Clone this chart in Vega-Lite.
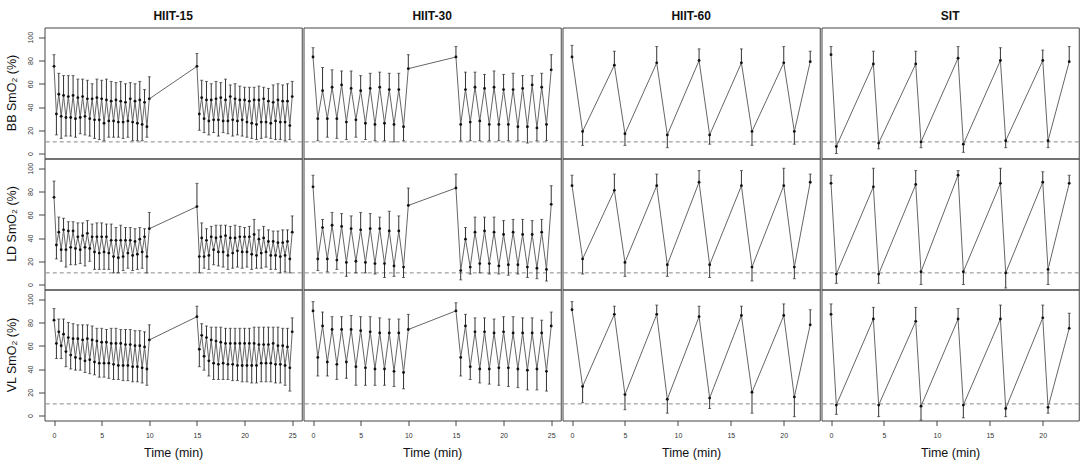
{
  "$schema": "https://vega.github.io/schema/vega-lite/v6.json",
  "background": "white",
  "padding": {"left": 4.5, "top": 9.5, "right": 5, "bottom": 0},
  "data": {
    "values": [
      {"p":"HIIT-15","m":"BB","t":0,"v":75,"e":85},{"p":"HIIT-15","m":"BB","t":0.25,"v":34,"e":16},{"p":"HIIT-15","m":"BB","t":0.5,"v":51,"e":69},{"p":"HIIT-15","m":"BB","t":0.75,"v":32,"e":13},{"p":"HIIT-15","m":"BB","t":1,"v":50,"e":67},{"p":"HIIT-15","m":"BB","t":1.25,"v":31,"e":15},{"p":"HIIT-15","m":"BB","t":1.5,"v":49,"e":67},{"p":"HIIT-15","m":"BB","t":1.75,"v":31,"e":15},{"p":"HIIT-15","m":"BB","t":2,"v":50,"e":67},{"p":"HIIT-15","m":"BB","t":2.25,"v":30,"e":14},{"p":"HIIT-15","m":"BB","t":2.5,"v":48,"e":64},{"p":"HIIT-15","m":"BB","t":2.75,"v":31,"e":17},{"p":"HIIT-15","m":"BB","t":3,"v":49,"e":64},{"p":"HIIT-15","m":"BB","t":3.25,"v":32,"e":16},{"p":"HIIT-15","m":"BB","t":3.5,"v":47,"e":63},{"p":"HIIT-15","m":"BB","t":3.75,"v":30,"e":15},{"p":"HIIT-15","m":"BB","t":4,"v":47,"e":60},{"p":"HIIT-15","m":"BB","t":4.25,"v":29,"e":13},{"p":"HIIT-15","m":"BB","t":4.5,"v":48,"e":64},{"p":"HIIT-15","m":"BB","t":4.75,"v":29,"e":12},{"p":"HIIT-15","m":"BB","t":5,"v":47,"e":63},{"p":"HIIT-15","m":"BB","t":5.25,"v":26,"e":11},{"p":"HIIT-15","m":"BB","t":5.5,"v":46,"e":64},{"p":"HIIT-15","m":"BB","t":5.75,"v":28,"e":14},{"p":"HIIT-15","m":"BB","t":6,"v":45,"e":62},{"p":"HIIT-15","m":"BB","t":6.25,"v":28,"e":14},{"p":"HIIT-15","m":"BB","t":6.5,"v":46,"e":61},{"p":"HIIT-15","m":"BB","t":6.75,"v":27,"e":14},{"p":"HIIT-15","m":"BB","t":7,"v":45,"e":62},{"p":"HIIT-15","m":"BB","t":7.25,"v":27,"e":13},{"p":"HIIT-15","m":"BB","t":7.5,"v":44,"e":60},{"p":"HIIT-15","m":"BB","t":7.75,"v":28,"e":14},{"p":"HIIT-15","m":"BB","t":8,"v":47,"e":61},{"p":"HIIT-15","m":"BB","t":8.25,"v":27,"e":11},{"p":"HIIT-15","m":"BB","t":8.5,"v":45,"e":60},{"p":"HIIT-15","m":"BB","t":8.75,"v":26,"e":11},{"p":"HIIT-15","m":"BB","t":9,"v":46,"e":62},{"p":"HIIT-15","m":"BB","t":9.25,"v":25,"e":11},{"p":"HIIT-15","m":"BB","t":9.5,"v":44,"e":55},{"p":"HIIT-15","m":"BB","t":9.75,"v":23,"e":14},{"p":"HIIT-15","m":"BB","t":10,"v":47,"e":66},
      {"p":"HIIT-15","m":"BB","t":15,"v":75,"e":86},{"p":"HIIT-15","m":"BB","t":15.25,"v":34,"e":20},{"p":"HIIT-15","m":"BB","t":15.5,"v":48,"e":63},{"p":"HIIT-15","m":"BB","t":15.75,"v":30,"e":18},{"p":"HIIT-15","m":"BB","t":16,"v":46,"e":62},{"p":"HIIT-15","m":"BB","t":16.25,"v":28,"e":16},{"p":"HIIT-15","m":"BB","t":16.5,"v":46,"e":60},{"p":"HIIT-15","m":"BB","t":16.75,"v":29,"e":18},{"p":"HIIT-15","m":"BB","t":17,"v":47,"e":62},{"p":"HIIT-15","m":"BB","t":17.25,"v":29,"e":15},{"p":"HIIT-15","m":"BB","t":17.5,"v":48,"e":61},{"p":"HIIT-15","m":"BB","t":17.75,"v":28,"e":18},{"p":"HIIT-15","m":"BB","t":18,"v":46,"e":64},{"p":"HIIT-15","m":"BB","t":18.25,"v":28,"e":17},{"p":"HIIT-15","m":"BB","t":18.5,"v":49,"e":59},{"p":"HIIT-15","m":"BB","t":18.75,"v":29,"e":15},{"p":"HIIT-15","m":"BB","t":19,"v":47,"e":60},{"p":"HIIT-15","m":"BB","t":19.25,"v":28,"e":16},{"p":"HIIT-15","m":"BB","t":19.5,"v":46,"e":58},{"p":"HIIT-15","m":"BB","t":19.75,"v":29,"e":15},{"p":"HIIT-15","m":"BB","t":20,"v":46,"e":57},{"p":"HIIT-15","m":"BB","t":20.25,"v":27,"e":14},{"p":"HIIT-15","m":"BB","t":20.5,"v":45,"e":57},{"p":"HIIT-15","m":"BB","t":20.75,"v":26,"e":13},{"p":"HIIT-15","m":"BB","t":21,"v":46,"e":57},{"p":"HIIT-15","m":"BB","t":21.25,"v":25,"e":12},{"p":"HIIT-15","m":"BB","t":21.5,"v":46,"e":58},{"p":"HIIT-15","m":"BB","t":21.75,"v":27,"e":13},{"p":"HIIT-15","m":"BB","t":22,"v":47,"e":57},{"p":"HIIT-15","m":"BB","t":22.25,"v":27,"e":14},{"p":"HIIT-15","m":"BB","t":22.5,"v":45,"e":56},{"p":"HIIT-15","m":"BB","t":22.75,"v":26,"e":13},{"p":"HIIT-15","m":"BB","t":23,"v":44,"e":59},{"p":"HIIT-15","m":"BB","t":23.25,"v":28,"e":12},{"p":"HIIT-15","m":"BB","t":23.5,"v":46,"e":60},{"p":"HIIT-15","m":"BB","t":23.75,"v":27,"e":12},{"p":"HIIT-15","m":"BB","t":24,"v":45,"e":59},{"p":"HIIT-15","m":"BB","t":24.25,"v":27,"e":11},{"p":"HIIT-15","m":"BB","t":24.5,"v":45,"e":60},{"p":"HIIT-15","m":"BB","t":24.75,"v":24,"e":12},{"p":"HIIT-15","m":"BB","t":25,"v":49,"e":62},
      {"p":"HIIT-15","m":"LD","t":0,"v":75,"e":89},{"p":"HIIT-15","m":"LD","t":0.25,"v":34,"e":22},{"p":"HIIT-15","m":"LD","t":0.5,"v":45,"e":58},{"p":"HIIT-15","m":"LD","t":0.75,"v":30,"e":20},{"p":"HIIT-15","m":"LD","t":1,"v":47,"e":57},{"p":"HIIT-15","m":"LD","t":1.25,"v":30,"e":15},{"p":"HIIT-15","m":"LD","t":1.5,"v":46,"e":54},{"p":"HIIT-15","m":"LD","t":1.75,"v":32,"e":17},{"p":"HIIT-15","m":"LD","t":2,"v":46,"e":54},{"p":"HIIT-15","m":"LD","t":2.25,"v":31,"e":17},{"p":"HIIT-15","m":"LD","t":2.5,"v":41,"e":53},{"p":"HIIT-15","m":"LD","t":2.75,"v":30,"e":18},{"p":"HIIT-15","m":"LD","t":3,"v":42,"e":53},{"p":"HIIT-15","m":"LD","t":3.25,"v":32,"e":16},{"p":"HIIT-15","m":"LD","t":3.5,"v":44,"e":55},{"p":"HIIT-15","m":"LD","t":3.75,"v":31,"e":20},{"p":"HIIT-15","m":"LD","t":4,"v":41,"e":52},{"p":"HIIT-15","m":"LD","t":4.25,"v":28,"e":13},{"p":"HIIT-15","m":"LD","t":4.5,"v":41,"e":53},{"p":"HIIT-15","m":"LD","t":4.75,"v":27,"e":13},{"p":"HIIT-15","m":"LD","t":5,"v":41,"e":53},{"p":"HIIT-15","m":"LD","t":5.25,"v":28,"e":13},{"p":"HIIT-15","m":"LD","t":5.5,"v":41,"e":52},{"p":"HIIT-15","m":"LD","t":5.75,"v":27,"e":13},{"p":"HIIT-15","m":"LD","t":6,"v":38,"e":52},{"p":"HIIT-15","m":"LD","t":6.25,"v":24,"e":10},{"p":"HIIT-15","m":"LD","t":6.5,"v":38,"e":49},{"p":"HIIT-15","m":"LD","t":6.75,"v":23,"e":10},{"p":"HIIT-15","m":"LD","t":7,"v":38,"e":51},{"p":"HIIT-15","m":"LD","t":7.25,"v":24,"e":12},{"p":"HIIT-15","m":"LD","t":7.5,"v":38,"e":49},{"p":"HIIT-15","m":"LD","t":7.75,"v":27,"e":14},{"p":"HIIT-15","m":"LD","t":8,"v":38,"e":49},{"p":"HIIT-15","m":"LD","t":8.25,"v":25,"e":12},{"p":"HIIT-15","m":"LD","t":8.5,"v":37,"e":48},{"p":"HIIT-15","m":"LD","t":8.75,"v":26,"e":13},{"p":"HIIT-15","m":"LD","t":9,"v":39,"e":49},{"p":"HIIT-15","m":"LD","t":9.25,"v":28,"e":14},{"p":"HIIT-15","m":"LD","t":9.5,"v":41,"e":48},{"p":"HIIT-15","m":"LD","t":9.75,"v":24,"e":10},{"p":"HIIT-15","m":"LD","t":10,"v":48,"e":62},
      {"p":"HIIT-15","m":"LD","t":15,"v":67,"e":87},{"p":"HIIT-15","m":"LD","t":15.25,"v":24,"e":10},{"p":"HIIT-15","m":"LD","t":15.5,"v":40,"e":53},{"p":"HIIT-15","m":"LD","t":15.75,"v":24,"e":14},{"p":"HIIT-15","m":"LD","t":16,"v":38,"e":48},{"p":"HIIT-15","m":"LD","t":16.25,"v":25,"e":13},{"p":"HIIT-15","m":"LD","t":16.5,"v":41,"e":50},{"p":"HIIT-15","m":"LD","t":16.75,"v":30,"e":17},{"p":"HIIT-15","m":"LD","t":17,"v":40,"e":51},{"p":"HIIT-15","m":"LD","t":17.25,"v":28,"e":16},{"p":"HIIT-15","m":"LD","t":17.5,"v":41,"e":51},{"p":"HIIT-15","m":"LD","t":17.75,"v":28,"e":15},{"p":"HIIT-15","m":"LD","t":18,"v":42,"e":51},{"p":"HIIT-15","m":"LD","t":18.25,"v":25,"e":13},{"p":"HIIT-15","m":"LD","t":18.5,"v":40,"e":50},{"p":"HIIT-15","m":"LD","t":18.75,"v":27,"e":14},{"p":"HIIT-15","m":"LD","t":19,"v":40,"e":51},{"p":"HIIT-15","m":"LD","t":19.25,"v":29,"e":15},{"p":"HIIT-15","m":"LD","t":19.5,"v":41,"e":50},{"p":"HIIT-15","m":"LD","t":19.75,"v":28,"e":14},{"p":"HIIT-15","m":"LD","t":20,"v":41,"e":49},{"p":"HIIT-15","m":"LD","t":20.25,"v":28,"e":15},{"p":"HIIT-15","m":"LD","t":20.5,"v":41,"e":50},{"p":"HIIT-15","m":"LD","t":20.75,"v":26,"e":13},{"p":"HIIT-15","m":"LD","t":21,"v":43,"e":56},{"p":"HIIT-15","m":"LD","t":21.25,"v":25,"e":14},{"p":"HIIT-15","m":"LD","t":21.5,"v":39,"e":47},{"p":"HIIT-15","m":"LD","t":21.75,"v":27,"e":14},{"p":"HIIT-15","m":"LD","t":22,"v":40,"e":50},{"p":"HIIT-15","m":"LD","t":22.25,"v":28,"e":15},{"p":"HIIT-15","m":"LD","t":22.5,"v":37,"e":47},{"p":"HIIT-15","m":"LD","t":22.75,"v":25,"e":13},{"p":"HIIT-15","m":"LD","t":23,"v":37,"e":46},{"p":"HIIT-15","m":"LD","t":23.25,"v":25,"e":13},{"p":"HIIT-15","m":"LD","t":23.5,"v":36,"e":46},{"p":"HIIT-15","m":"LD","t":23.75,"v":24,"e":10},{"p":"HIIT-15","m":"LD","t":24,"v":36,"e":47},{"p":"HIIT-15","m":"LD","t":24.25,"v":25,"e":11},{"p":"HIIT-15","m":"LD","t":24.5,"v":37,"e":47},{"p":"HIIT-15","m":"LD","t":24.75,"v":22,"e":10},{"p":"HIIT-15","m":"LD","t":25,"v":45,"e":59},
      {"p":"HIIT-15","m":"VL","t":0,"v":82,"e":92},{"p":"HIIT-15","m":"VL","t":0.25,"v":62,"e":49},{"p":"HIIT-15","m":"VL","t":0.5,"v":72,"e":83},{"p":"HIIT-15","m":"VL","t":0.75,"v":60,"e":49},{"p":"HIIT-15","m":"VL","t":1,"v":70,"e":83},{"p":"HIIT-15","m":"VL","t":1.25,"v":55,"e":42},{"p":"HIIT-15","m":"VL","t":1.5,"v":67,"e":80},{"p":"HIIT-15","m":"VL","t":1.75,"v":52,"e":40},{"p":"HIIT-15","m":"VL","t":2,"v":66,"e":79},{"p":"HIIT-15","m":"VL","t":2.25,"v":50,"e":39},{"p":"HIIT-15","m":"VL","t":2.5,"v":66,"e":78},{"p":"HIIT-15","m":"VL","t":2.75,"v":49,"e":39},{"p":"HIIT-15","m":"VL","t":3,"v":65,"e":78},{"p":"HIIT-15","m":"VL","t":3.25,"v":47,"e":37},{"p":"HIIT-15","m":"VL","t":3.5,"v":66,"e":78},{"p":"HIIT-15","m":"VL","t":3.75,"v":48,"e":36},{"p":"HIIT-15","m":"VL","t":4,"v":65,"e":77},{"p":"HIIT-15","m":"VL","t":4.25,"v":46,"e":35},{"p":"HIIT-15","m":"VL","t":4.5,"v":64,"e":75},{"p":"HIIT-15","m":"VL","t":4.75,"v":45,"e":33},{"p":"HIIT-15","m":"VL","t":5,"v":63,"e":75},{"p":"HIIT-15","m":"VL","t":5.25,"v":45,"e":33},{"p":"HIIT-15","m":"VL","t":5.5,"v":63,"e":74},{"p":"HIIT-15","m":"VL","t":5.75,"v":45,"e":32},{"p":"HIIT-15","m":"VL","t":6,"v":62,"e":75},{"p":"HIIT-15","m":"VL","t":6.25,"v":44,"e":31},{"p":"HIIT-15","m":"VL","t":6.5,"v":62,"e":75},{"p":"HIIT-15","m":"VL","t":6.75,"v":43,"e":31},{"p":"HIIT-15","m":"VL","t":7,"v":62,"e":74},{"p":"HIIT-15","m":"VL","t":7.25,"v":43,"e":30},{"p":"HIIT-15","m":"VL","t":7.5,"v":61,"e":74},{"p":"HIIT-15","m":"VL","t":7.75,"v":43,"e":30},{"p":"HIIT-15","m":"VL","t":8,"v":61,"e":74},{"p":"HIIT-15","m":"VL","t":8.25,"v":42,"e":29},{"p":"HIIT-15","m":"VL","t":8.5,"v":60,"e":73},{"p":"HIIT-15","m":"VL","t":8.75,"v":42,"e":29},{"p":"HIIT-15","m":"VL","t":9,"v":60,"e":73},{"p":"HIIT-15","m":"VL","t":9.25,"v":41,"e":28},{"p":"HIIT-15","m":"VL","t":9.5,"v":59,"e":72},{"p":"HIIT-15","m":"VL","t":9.75,"v":40,"e":26},{"p":"HIIT-15","m":"VL","t":10,"v":65,"e":78},
      {"p":"HIIT-15","m":"VL","t":15,"v":85,"e":94},{"p":"HIIT-15","m":"VL","t":15.25,"v":57,"e":42},{"p":"HIIT-15","m":"VL","t":15.5,"v":69,"e":79},{"p":"HIIT-15","m":"VL","t":15.75,"v":51,"e":39},{"p":"HIIT-15","m":"VL","t":16,"v":67,"e":77},{"p":"HIIT-15","m":"VL","t":16.25,"v":47,"e":34},{"p":"HIIT-15","m":"VL","t":16.5,"v":65,"e":76},{"p":"HIIT-15","m":"VL","t":16.75,"v":45,"e":31},{"p":"HIIT-15","m":"VL","t":17,"v":64,"e":76},{"p":"HIIT-15","m":"VL","t":17.25,"v":44,"e":31},{"p":"HIIT-15","m":"VL","t":17.5,"v":63,"e":76},{"p":"HIIT-15","m":"VL","t":17.75,"v":45,"e":31},{"p":"HIIT-15","m":"VL","t":18,"v":62,"e":75},{"p":"HIIT-15","m":"VL","t":18.25,"v":44,"e":31},{"p":"HIIT-15","m":"VL","t":18.5,"v":62,"e":75},{"p":"HIIT-15","m":"VL","t":18.75,"v":44,"e":30},{"p":"HIIT-15","m":"VL","t":19,"v":62,"e":75},{"p":"HIIT-15","m":"VL","t":19.25,"v":43,"e":30},{"p":"HIIT-15","m":"VL","t":19.5,"v":62,"e":75},{"p":"HIIT-15","m":"VL","t":19.75,"v":43,"e":29},{"p":"HIIT-15","m":"VL","t":20,"v":62,"e":75},{"p":"HIIT-15","m":"VL","t":20.25,"v":43,"e":29},{"p":"HIIT-15","m":"VL","t":20.5,"v":62,"e":75},{"p":"HIIT-15","m":"VL","t":20.75,"v":43,"e":28},{"p":"HIIT-15","m":"VL","t":21,"v":62,"e":76},{"p":"HIIT-15","m":"VL","t":21.25,"v":43,"e":28},{"p":"HIIT-15","m":"VL","t":21.5,"v":61,"e":76},{"p":"HIIT-15","m":"VL","t":21.75,"v":45,"e":29},{"p":"HIIT-15","m":"VL","t":22,"v":61,"e":76},{"p":"HIIT-15","m":"VL","t":22.25,"v":45,"e":29},{"p":"HIIT-15","m":"VL","t":22.5,"v":61,"e":76},{"p":"HIIT-15","m":"VL","t":22.75,"v":45,"e":29},{"p":"HIIT-15","m":"VL","t":23,"v":62,"e":76},{"p":"HIIT-15","m":"VL","t":23.25,"v":44,"e":28},{"p":"HIIT-15","m":"VL","t":23.5,"v":60,"e":76},{"p":"HIIT-15","m":"VL","t":23.75,"v":44,"e":28},{"p":"HIIT-15","m":"VL","t":24,"v":60,"e":75},{"p":"HIIT-15","m":"VL","t":24.25,"v":43,"e":26},{"p":"HIIT-15","m":"VL","t":24.5,"v":59,"e":75},{"p":"HIIT-15","m":"VL","t":24.75,"v":41,"e":21},{"p":"HIIT-15","m":"VL","t":25,"v":72,"e":84},
      {"p":"HIIT-30","m":"BB","t":0,"v":83,"e":91},{"p":"HIIT-30","m":"BB","t":0.5,"v":30,"e":11},{"p":"HIIT-30","m":"BB","t":1,"v":54,"e":74},{"p":"HIIT-30","m":"BB","t":1.5,"v":30,"e":14},{"p":"HIIT-30","m":"BB","t":2,"v":57,"e":72},{"p":"HIIT-30","m":"BB","t":2.5,"v":30,"e":13},{"p":"HIIT-30","m":"BB","t":3,"v":59,"e":71},{"p":"HIIT-30","m":"BB","t":3.5,"v":27,"e":12},{"p":"HIIT-30","m":"BB","t":4,"v":56,"e":71},{"p":"HIIT-30","m":"BB","t":4.5,"v":29,"e":14},{"p":"HIIT-30","m":"BB","t":5,"v":54,"e":67},{"p":"HIIT-30","m":"BB","t":5.5,"v":26,"e":12},{"p":"HIIT-30","m":"BB","t":6,"v":56,"e":69},{"p":"HIIT-30","m":"BB","t":6.5,"v":25,"e":11},{"p":"HIIT-30","m":"BB","t":7,"v":57,"e":70},{"p":"HIIT-30","m":"BB","t":7.5,"v":26,"e":11},{"p":"HIIT-30","m":"BB","t":8,"v":55,"e":69},{"p":"HIIT-30","m":"BB","t":8.5,"v":25,"e":10},{"p":"HIIT-30","m":"BB","t":9,"v":55,"e":69},{"p":"HIIT-30","m":"BB","t":9.5,"v":23,"e":11},{"p":"HIIT-30","m":"BB","t":10,"v":73,"e":85},
      {"p":"HIIT-30","m":"BB","t":15,"v":83,"e":92},{"p":"HIIT-30","m":"BB","t":15.5,"v":25,"e":11},{"p":"HIIT-30","m":"BB","t":16,"v":55,"e":70},{"p":"HIIT-30","m":"BB","t":16.5,"v":27,"e":11},{"p":"HIIT-30","m":"BB","t":17,"v":57,"e":70},{"p":"HIIT-30","m":"BB","t":17.5,"v":28,"e":11},{"p":"HIIT-30","m":"BB","t":18,"v":56,"e":68},{"p":"HIIT-30","m":"BB","t":18.5,"v":25,"e":11},{"p":"HIIT-30","m":"BB","t":19,"v":57,"e":71},{"p":"HIIT-30","m":"BB","t":19.5,"v":25,"e":11},{"p":"HIIT-30","m":"BB","t":20,"v":55,"e":68},{"p":"HIIT-30","m":"BB","t":20.5,"v":25,"e":11},{"p":"HIIT-30","m":"BB","t":21,"v":55,"e":69},{"p":"HIIT-30","m":"BB","t":21.5,"v":23,"e":11},{"p":"HIIT-30","m":"BB","t":22,"v":56,"e":67},{"p":"HIIT-30","m":"BB","t":22.5,"v":23,"e":9},{"p":"HIIT-30","m":"BB","t":23,"v":59,"e":67},{"p":"HIIT-30","m":"BB","t":23.5,"v":22,"e":11},{"p":"HIIT-30","m":"BB","t":24,"v":57,"e":69},{"p":"HIIT-30","m":"BB","t":24.5,"v":25,"e":11},{"p":"HIIT-30","m":"BB","t":25,"v":72,"e":85},
      {"p":"HIIT-30","m":"LD","t":0,"v":84,"e":94},{"p":"HIIT-30","m":"LD","t":0.5,"v":22,"e":12},{"p":"HIIT-30","m":"LD","t":1,"v":49,"e":56},{"p":"HIIT-30","m":"LD","t":1.5,"v":22,"e":11},{"p":"HIIT-30","m":"LD","t":2,"v":51,"e":62},{"p":"HIIT-30","m":"LD","t":2.5,"v":21,"e":13},{"p":"HIIT-30","m":"LD","t":3,"v":50,"e":61},{"p":"HIIT-30","m":"LD","t":3.5,"v":19,"e":7},{"p":"HIIT-30","m":"LD","t":4,"v":48,"e":59},{"p":"HIIT-30","m":"LD","t":4.5,"v":20,"e":10},{"p":"HIIT-30","m":"LD","t":5,"v":47,"e":62},{"p":"HIIT-30","m":"LD","t":5.5,"v":19,"e":10},{"p":"HIIT-30","m":"LD","t":6,"v":48,"e":61},{"p":"HIIT-30","m":"LD","t":6.5,"v":18,"e":9},{"p":"HIIT-30","m":"LD","t":7,"v":48,"e":58},{"p":"HIIT-30","m":"LD","t":7.5,"v":18,"e":6},{"p":"HIIT-30","m":"LD","t":8,"v":46,"e":63},{"p":"HIIT-30","m":"LD","t":8.5,"v":16,"e":7},{"p":"HIIT-30","m":"LD","t":9,"v":46,"e":59},{"p":"HIIT-30","m":"LD","t":9.5,"v":15,"e":6},{"p":"HIIT-30","m":"LD","t":10,"v":68,"e":83},
      {"p":"HIIT-30","m":"LD","t":15,"v":83,"e":95},{"p":"HIIT-30","m":"LD","t":15.5,"v":12,"e":4},{"p":"HIIT-30","m":"LD","t":16,"v":39,"e":49},{"p":"HIIT-30","m":"LD","t":16.5,"v":15,"e":9},{"p":"HIIT-30","m":"LD","t":17,"v":45,"e":58},{"p":"HIIT-30","m":"LD","t":17.5,"v":18,"e":10},{"p":"HIIT-30","m":"LD","t":18,"v":46,"e":58},{"p":"HIIT-30","m":"LD","t":18.5,"v":18,"e":9},{"p":"HIIT-30","m":"LD","t":19,"v":45,"e":58},{"p":"HIIT-30","m":"LD","t":19.5,"v":16,"e":9},{"p":"HIIT-30","m":"LD","t":20,"v":43,"e":55},{"p":"HIIT-30","m":"LD","t":20.5,"v":17,"e":8},{"p":"HIIT-30","m":"LD","t":21,"v":45,"e":56},{"p":"HIIT-30","m":"LD","t":21.5,"v":17,"e":9},{"p":"HIIT-30","m":"LD","t":22,"v":43,"e":56},{"p":"HIIT-30","m":"LD","t":22.5,"v":15,"e":6},{"p":"HIIT-30","m":"LD","t":23,"v":43,"e":55},{"p":"HIIT-30","m":"LD","t":23.5,"v":14,"e":5},{"p":"HIIT-30","m":"LD","t":24,"v":45,"e":56},{"p":"HIIT-30","m":"LD","t":24.5,"v":13,"e":3},{"p":"HIIT-30","m":"LD","t":25,"v":69,"e":85},
      {"p":"HIIT-30","m":"VL","t":0,"v":90,"e":98},{"p":"HIIT-30","m":"VL","t":0.5,"v":50,"e":34},{"p":"HIIT-30","m":"VL","t":1,"v":77,"e":89},{"p":"HIIT-30","m":"VL","t":1.5,"v":46,"e":34},{"p":"HIIT-30","m":"VL","t":2,"v":74,"e":85},{"p":"HIIT-30","m":"VL","t":2.5,"v":44,"e":31},{"p":"HIIT-30","m":"VL","t":3,"v":74,"e":85},{"p":"HIIT-30","m":"VL","t":3.5,"v":46,"e":32},{"p":"HIIT-30","m":"VL","t":4,"v":74,"e":86},{"p":"HIIT-30","m":"VL","t":4.5,"v":42,"e":26},{"p":"HIIT-30","m":"VL","t":5,"v":73,"e":85},{"p":"HIIT-30","m":"VL","t":5.5,"v":41,"e":26},{"p":"HIIT-30","m":"VL","t":6,"v":72,"e":85},{"p":"HIIT-30","m":"VL","t":6.5,"v":40,"e":26},{"p":"HIIT-30","m":"VL","t":7,"v":71,"e":84},{"p":"HIIT-30","m":"VL","t":7.5,"v":40,"e":26},{"p":"HIIT-30","m":"VL","t":8,"v":71,"e":83},{"p":"HIIT-30","m":"VL","t":8.5,"v":38,"e":25},{"p":"HIIT-30","m":"VL","t":9,"v":71,"e":83},{"p":"HIIT-30","m":"VL","t":9.5,"v":37,"e":23},{"p":"HIIT-30","m":"VL","t":10,"v":74,"e":87},
      {"p":"HIIT-30","m":"VL","t":15,"v":90,"e":97},{"p":"HIIT-30","m":"VL","t":15.5,"v":50,"e":34},{"p":"HIIT-30","m":"VL","t":16,"v":77,"e":87},{"p":"HIIT-30","m":"VL","t":16.5,"v":42,"e":31},{"p":"HIIT-30","m":"VL","t":17,"v":72,"e":84},{"p":"HIIT-30","m":"VL","t":17.5,"v":40,"e":28},{"p":"HIIT-30","m":"VL","t":18,"v":72,"e":84},{"p":"HIIT-30","m":"VL","t":18.5,"v":40,"e":27},{"p":"HIIT-30","m":"VL","t":19,"v":71,"e":83},{"p":"HIIT-30","m":"VL","t":19.5,"v":41,"e":26},{"p":"HIIT-30","m":"VL","t":20,"v":72,"e":85},{"p":"HIIT-30","m":"VL","t":20.5,"v":41,"e":25},{"p":"HIIT-30","m":"VL","t":21,"v":71,"e":85},{"p":"HIIT-30","m":"VL","t":21.5,"v":40,"e":24},{"p":"HIIT-30","m":"VL","t":22,"v":71,"e":84},{"p":"HIIT-30","m":"VL","t":22.5,"v":39,"e":22},{"p":"HIIT-30","m":"VL","t":23,"v":71,"e":84},{"p":"HIIT-30","m":"VL","t":23.5,"v":40,"e":22},{"p":"HIIT-30","m":"VL","t":24,"v":71,"e":82},{"p":"HIIT-30","m":"VL","t":24.5,"v":38,"e":21},{"p":"HIIT-30","m":"VL","t":25,"v":77,"e":89},
      {"p":"HIIT-60","m":"BB","t":0,"v":83,"e":93},{"p":"HIIT-60","m":"BB","t":1,"v":19,"e":7},{"p":"HIIT-60","m":"BB","t":4,"v":76,"e":88},{"p":"HIIT-60","m":"BB","t":5,"v":17,"e":7},{"p":"HIIT-60","m":"BB","t":8,"v":78,"e":92},{"p":"HIIT-60","m":"BB","t":9,"v":16,"e":5},{"p":"HIIT-60","m":"BB","t":12,"v":80,"e":90},{"p":"HIIT-60","m":"BB","t":13,"v":16,"e":8},{"p":"HIIT-60","m":"BB","t":16,"v":78,"e":90},{"p":"HIIT-60","m":"BB","t":17,"v":19,"e":7},{"p":"HIIT-60","m":"BB","t":20,"v":78,"e":92},{"p":"HIIT-60","m":"BB","t":21,"v":19,"e":8},{"p":"HIIT-60","m":"BB","t":22.5,"v":79,"e":88},
      {"p":"HIIT-60","m":"LD","t":0,"v":85,"e":94},{"p":"HIIT-60","m":"LD","t":1,"v":22,"e":9},{"p":"HIIT-60","m":"LD","t":4,"v":81,"e":95},{"p":"HIIT-60","m":"LD","t":5,"v":19,"e":7},{"p":"HIIT-60","m":"LD","t":8,"v":85,"e":95},{"p":"HIIT-60","m":"LD","t":9,"v":17,"e":7},{"p":"HIIT-60","m":"LD","t":12,"v":88,"e":98},{"p":"HIIT-60","m":"LD","t":13,"v":17,"e":6},{"p":"HIIT-60","m":"LD","t":16,"v":85,"e":98},{"p":"HIIT-60","m":"LD","t":17,"v":15,"e":3},{"p":"HIIT-60","m":"LD","t":20,"v":85,"e":100},{"p":"HIIT-60","m":"LD","t":21,"v":15,"e":5},{"p":"HIIT-60","m":"LD","t":22.5,"v":88,"e":95},
      {"p":"HIIT-60","m":"VL","t":0,"v":91,"e":98},{"p":"HIIT-60","m":"VL","t":1,"v":25,"e":11},{"p":"HIIT-60","m":"VL","t":4,"v":87,"e":94},{"p":"HIIT-60","m":"VL","t":5,"v":18,"e":5},{"p":"HIIT-60","m":"VL","t":8,"v":87,"e":95},{"p":"HIIT-60","m":"VL","t":9,"v":14,"e":2},{"p":"HIIT-60","m":"VL","t":12,"v":85,"e":94},{"p":"HIIT-60","m":"VL","t":13,"v":15,"e":6},{"p":"HIIT-60","m":"VL","t":16,"v":86,"e":94},{"p":"HIIT-60","m":"VL","t":17,"v":20,"e":2},{"p":"HIIT-60","m":"VL","t":20,"v":86,"e":96},{"p":"HIIT-60","m":"VL","t":21,"v":16,"e":-1},{"p":"HIIT-60","m":"VL","t":22.5,"v":78,"e":91},
      {"p":"SIT","m":"BB","t":0,"v":85,"e":92},{"p":"SIT","m":"BB","t":0.5,"v":6,"e":0},{"p":"SIT","m":"BB","t":4,"v":77,"e":88},{"p":"SIT","m":"BB","t":4.5,"v":9,"e":4},{"p":"SIT","m":"BB","t":8,"v":77,"e":88},{"p":"SIT","m":"BB","t":8.5,"v":10,"e":5},{"p":"SIT","m":"BB","t":12,"v":82,"e":92},{"p":"SIT","m":"BB","t":12.5,"v":8,"e":1},{"p":"SIT","m":"BB","t":16,"v":80,"e":91},{"p":"SIT","m":"BB","t":16.5,"v":11,"e":5},{"p":"SIT","m":"BB","t":20,"v":80,"e":89},{"p":"SIT","m":"BB","t":20.5,"v":11,"e":5},{"p":"SIT","m":"BB","t":22.5,"v":79,"e":92},
      {"p":"SIT","m":"LD","t":0,"v":87,"e":94},{"p":"SIT","m":"LD","t":0.5,"v":9,"e":1},{"p":"SIT","m":"LD","t":4,"v":84,"e":100},{"p":"SIT","m":"LD","t":4.5,"v":9,"e":1},{"p":"SIT","m":"LD","t":8,"v":86,"e":98},{"p":"SIT","m":"LD","t":8.5,"v":11,"e":0},{"p":"SIT","m":"LD","t":12,"v":94,"e":98},{"p":"SIT","m":"LD","t":12.5,"v":11,"e":0},{"p":"SIT","m":"LD","t":16,"v":87,"e":100},{"p":"SIT","m":"LD","t":16.5,"v":10,"e":-3},{"p":"SIT","m":"LD","t":20,"v":88,"e":97},{"p":"SIT","m":"LD","t":20.5,"v":13,"e":0},{"p":"SIT","m":"LD","t":22.5,"v":87,"e":94},
      {"p":"SIT","m":"VL","t":0,"v":87,"e":96},{"p":"SIT","m":"VL","t":0.5,"v":9,"e":1},{"p":"SIT","m":"VL","t":4,"v":83,"e":93},{"p":"SIT","m":"VL","t":4.5,"v":9,"e":-1},{"p":"SIT","m":"VL","t":8,"v":81,"e":93},{"p":"SIT","m":"VL","t":8.5,"v":8,"e":-4},{"p":"SIT","m":"VL","t":12,"v":83,"e":92},{"p":"SIT","m":"VL","t":12.5,"v":9,"e":-2},{"p":"SIT","m":"VL","t":16,"v":83,"e":95},{"p":"SIT","m":"VL","t":16.5,"v":6,"e":-1},{"p":"SIT","m":"VL","t":20,"v":84,"e":95},{"p":"SIT","m":"VL","t":20.5,"v":7,"e":2},{"p":"SIT","m":"VL","t":22.5,"v":75,"e":88}
    ]
  },
  "spacing": -3.5,
  "hconcat": [
    {
      "transform": [{"filter": "datum.p == 'HIIT-15'"}],
      "facet": {
        "row": {"field": "m", "type": "nominal", "header": {"title": null, "labelAngle": -90, "labelExpr": "datum.value + ' SmO₂ (%)'", "labelFontSize": 12.5, "labelColor": "#111", "labelPadding": 2.5}},
        "column": {"field": "p", "type": "nominal", "header": {"title": null, "labelFontSize": 12, "labelFontWeight": "bold", "labelColor": "#111", "labelPadding": 5}}
      },
      "spacing": 0,
      "bounds": "flush",
      "spec": {
        "width": 257.25,
        "height": 131,
        "layer": [
          {"transform": [{"filter": "datum.t == 0"}], "mark": {"type": "rule", "color": "#888", "strokeDash": [4, 3], "strokeWidth": 1}, "encoding": {"y": {"datum": 10, "type": "quantitative", "scale": {"domain": [-4.3, 108.4], "nice": false, "zero": false}, "title": null}}},
          {"mark": {"type": "rule", "color": "#333", "strokeWidth": 1}, "encoding": {"x": {"field": "t", "type": "quantitative", "scale": {"domain": [-1, 26], "nice": false, "zero": false}, "title": "Time (min)"}, "y": {"field": "v", "type": "quantitative", "title": null}, "y2": {"field": "e"}}},
          {"mark": {"type": "tick", "orient": "horizontal", "size": 3, "thickness": 1, "color": "#333"}, "encoding": {"x": {"field": "t", "type": "quantitative", "title": "Time (min)"}, "y": {"field": "e", "type": "quantitative", "title": null}}},
          {"mark": {"type": "line", "color": "#666", "strokeWidth": 1}, "encoding": {"x": {"field": "t", "type": "quantitative", "title": "Time (min)"}, "y": {"field": "v", "type": "quantitative", "title": null}}},
          {"mark": {"type": "point", "filled": true, "size": 8, "color": "#111", "opacity": 1}, "encoding": {"x": {"field": "t", "type": "quantitative", "title": "Time (min)"}, "y": {"field": "v", "type": "quantitative", "title": null}}}
        ]
      }
    },
    {
      "transform": [{"filter": "datum.p == 'HIIT-30'"}],
      "facet": {
        "row": {"field": "m", "type": "nominal", "header": null},
        "column": {"field": "p", "type": "nominal", "header": {"title": null, "labelFontSize": 12, "labelFontWeight": "bold", "labelColor": "#111", "labelPadding": 5}}
      },
      "spacing": 0,
      "bounds": "flush",
      "spec": {
        "width": 257.25,
        "height": 131,
        "layer": [
          {"transform": [{"filter": "datum.t == 0"}], "mark": {"type": "rule", "color": "#888", "strokeDash": [4, 3], "strokeWidth": 1}, "encoding": {"y": {"datum": 10, "type": "quantitative", "scale": {"domain": [-4.3, 108.4], "nice": false, "zero": false}, "axis": null}}},
          {"mark": {"type": "rule", "color": "#333", "strokeWidth": 1}, "encoding": {"x": {"field": "t", "type": "quantitative", "scale": {"domain": [-1, 26], "nice": false, "zero": false}, "title": "Time (min)"}, "y": {"field": "v", "type": "quantitative", "axis": null}, "y2": {"field": "e"}}},
          {"mark": {"type": "tick", "orient": "horizontal", "size": 3, "thickness": 1, "color": "#333"}, "encoding": {"x": {"field": "t", "type": "quantitative", "title": "Time (min)"}, "y": {"field": "e", "type": "quantitative", "axis": null}}},
          {"mark": {"type": "line", "color": "#666", "strokeWidth": 1}, "encoding": {"x": {"field": "t", "type": "quantitative", "title": "Time (min)"}, "y": {"field": "v", "type": "quantitative", "axis": null}}},
          {"mark": {"type": "point", "filled": true, "size": 8, "color": "#111", "opacity": 1}, "encoding": {"x": {"field": "t", "type": "quantitative", "title": "Time (min)"}, "y": {"field": "v", "type": "quantitative", "axis": null}}}
        ]
      }
    },
    {
      "transform": [{"filter": "datum.p == 'HIIT-60'"}],
      "facet": {
        "row": {"field": "m", "type": "nominal", "header": null},
        "column": {"field": "p", "type": "nominal", "header": {"title": null, "labelFontSize": 12, "labelFontWeight": "bold", "labelColor": "#111", "labelPadding": 5}}
      },
      "spacing": 0,
      "bounds": "flush",
      "spec": {
        "width": 257.25,
        "height": 131,
        "layer": [
          {"transform": [{"filter": "datum.t == 0"}], "mark": {"type": "rule", "color": "#888", "strokeDash": [4, 3], "strokeWidth": 1}, "encoding": {"y": {"datum": 10, "type": "quantitative", "scale": {"domain": [-4.3, 108.4], "nice": false, "zero": false}, "axis": null}}},
          {"mark": {"type": "rule", "color": "#333", "strokeWidth": 1}, "encoding": {"x": {"field": "t", "type": "quantitative", "scale": {"domain": [-0.9, 23.4], "nice": false, "zero": false}, "title": "Time (min)"}, "y": {"field": "v", "type": "quantitative", "axis": null}, "y2": {"field": "e"}}},
          {"mark": {"type": "tick", "orient": "horizontal", "size": 3, "thickness": 1, "color": "#333"}, "encoding": {"x": {"field": "t", "type": "quantitative", "title": "Time (min)"}, "y": {"field": "e", "type": "quantitative", "axis": null}}},
          {"mark": {"type": "line", "color": "#666", "strokeWidth": 1}, "encoding": {"x": {"field": "t", "type": "quantitative", "title": "Time (min)"}, "y": {"field": "v", "type": "quantitative", "axis": null}}},
          {"mark": {"type": "point", "filled": true, "size": 8, "color": "#111", "opacity": 1}, "encoding": {"x": {"field": "t", "type": "quantitative", "title": "Time (min)"}, "y": {"field": "v", "type": "quantitative", "axis": null}}}
        ]
      }
    },
    {
      "transform": [{"filter": "datum.p == 'SIT'"}],
      "facet": {
        "row": {"field": "m", "type": "nominal", "header": null},
        "column": {"field": "p", "type": "nominal", "header": {"title": null, "labelFontSize": 12, "labelFontWeight": "bold", "labelColor": "#111", "labelPadding": 5}}
      },
      "spacing": 0,
      "bounds": "flush",
      "spec": {
        "width": 257.25,
        "height": 131,
        "layer": [
          {"transform": [{"filter": "datum.t == 0"}], "mark": {"type": "rule", "color": "#888", "strokeDash": [4, 3], "strokeWidth": 1}, "encoding": {"y": {"datum": 10, "type": "quantitative", "scale": {"domain": [-4.3, 108.4], "nice": false, "zero": false}, "axis": null}}},
          {"mark": {"type": "rule", "color": "#333", "strokeWidth": 1}, "encoding": {"x": {"field": "t", "type": "quantitative", "scale": {"domain": [-0.9, 23.4], "nice": false, "zero": false}, "title": "Time (min)"}, "y": {"field": "v", "type": "quantitative", "axis": null}, "y2": {"field": "e"}}},
          {"mark": {"type": "tick", "orient": "horizontal", "size": 3, "thickness": 1, "color": "#333"}, "encoding": {"x": {"field": "t", "type": "quantitative", "title": "Time (min)"}, "y": {"field": "e", "type": "quantitative", "axis": null}}},
          {"mark": {"type": "line", "color": "#666", "strokeWidth": 1}, "encoding": {"x": {"field": "t", "type": "quantitative", "title": "Time (min)"}, "y": {"field": "v", "type": "quantitative", "axis": null}}},
          {"mark": {"type": "point", "filled": true, "size": 8, "color": "#111", "opacity": 1}, "encoding": {"x": {"field": "t", "type": "quantitative", "title": "Time (min)"}, "y": {"field": "v", "type": "quantitative", "axis": null}}}
        ]
      }
    }
  ],
  "config": {
    "font": "Liberation Sans",
    "view": {"stroke": "#444", "strokeWidth": 1},
    "axisX": {"grid": false, "domain": false, "tickSize": 5, "tickColor": "#444", "labelFontSize": 7, "labelColor": "#333", "labelPadding": 6, "titleFontSize": 12.5, "titleFontWeight": "normal", "titleColor": "#111", "titlePadding": 8},
    "axisY": {"grid": false, "domain": false, "tickCount": 6, "tickSize": 6, "tickColor": "#444", "labelAngle": -90, "labelFontSize": 7, "labelColor": "#333", "labelPadding": 5}
  }
}
